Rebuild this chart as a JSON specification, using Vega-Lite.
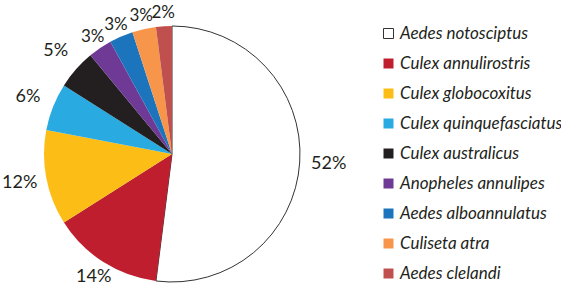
{
  "$schema": "https://vega.github.io/schema/vega-lite/v6.json",
  "width": 344,
  "height": 308,
  "autosize": {"type": "none"},
  "padding": {"left": 0, "top": 0, "right": 217, "bottom": 0},
  "background": "white",
  "config": {"view": {"stroke": null}},
  "data": {
    "values": [
      {"species": "Aedes notosciptus", "share": 0.52, "order": 1},
      {"species": "Culex annulirostris", "share": 0.14, "order": 2},
      {"species": "Culex globocoxitus", "share": 0.12, "order": 3},
      {"species": "Culex quinquefasciatus", "share": 0.06, "order": 4},
      {"species": "Culex australicus", "share": 0.05, "order": 5},
      {"species": "Anopheles annulipes", "share": 0.03, "order": 6},
      {"species": "Aedes alboannulatus", "share": 0.03, "order": 7},
      {"species": "Culiseta atra", "share": 0.03, "order": 8},
      {"species": "Aedes clelandi", "share": 0.02, "order": 9}
    ]
  },
  "encoding": {
    "theta": {"field": "share", "type": "quantitative", "stack": true},
    "order": {"field": "order", "type": "quantitative"}
  },
  "layer": [
    {
      "mark": {"type": "arc", "outerRadius": 128, "strokeWidth": 1},
      "encoding": {
        "fill": {
          "field": "species",
          "type": "nominal",
          "sort": null,
          "scale": {
            "domain": ["Aedes notosciptus", "Culex annulirostris", "Culex globocoxitus", "Culex quinquefasciatus", "Culex australicus", "Anopheles annulipes", "Aedes alboannulatus", "Culiseta atra", "Aedes clelandi"],
            "range": ["#ffffff", "#be1e2d", "#fdbd17", "#29abe2", "#231f20", "#6f3996", "#1c75bc", "#f7964a", "#c0504d"]
          },
          "legend": {
            "title": null,
            "orient": "none",
            "legendX": 380,
            "legendY": 25,
            "symbolType": "square",
            "symbolSize": 100,
            "symbolStrokeWidth": 1,
            "labelFont": "Lato",
            "labelFontStyle": "italic",
            "labelFontSize": 17,
            "labelColor": "#231f20",
            "labelOffset": 3,
            "rowPadding": 12,
            "labelLimit": 300
          }
        },
        "stroke": {
          "field": "species",
          "type": "nominal",
          "sort": null,
          "scale": {
            "domain": ["Aedes notosciptus", "Culex annulirostris", "Culex globocoxitus", "Culex quinquefasciatus", "Culex australicus", "Anopheles annulipes", "Aedes alboannulatus", "Culiseta atra", "Aedes clelandi"],
            "range": ["#333333", "transparent", "transparent", "transparent", "transparent", "transparent", "transparent", "transparent", "transparent"]
          }
        }
      }
    },
    {
      "mark": {"type": "text", "font": "Lato", "fontSize": 18, "color": "#231f20", "align": "center", "baseline": "middle", "radius": 157},
      "encoding": {
        "text": {"condition": {"test": "datum.share >= 0.5", "field": "share", "type": "quantitative", "format": ".0%"}, "value": ""}
      }
    },
    {
      "mark": {"type": "text", "font": "Lato", "fontSize": 18, "color": "#231f20", "align": "center", "baseline": "middle", "radius": 146},
      "encoding": {
        "text": {"condition": {"test": "datum.share >= 0.13 && datum.share < 0.5", "field": "share", "type": "quantitative", "format": ".0%"}, "value": ""}
      }
    },
    {
      "mark": {"type": "text", "font": "Lato", "fontSize": 18, "color": "#231f20", "align": "center", "baseline": "middle", "radius": 155},
      "encoding": {
        "text": {"condition": {"test": "datum.share >= 0.04 && datum.share < 0.13", "field": "share", "type": "quantitative", "format": ".0%"}, "value": ""}
      }
    },
    {
      "mark": {"type": "text", "font": "Lato", "fontSize": 17, "color": "#231f20", "align": "center", "baseline": "middle", "radius": 141},
      "encoding": {
        "text": {"condition": {"test": "datum.share < 0.04", "field": "share", "type": "quantitative", "format": ".0%"}, "value": ""}
      }
    }
  ]
}
